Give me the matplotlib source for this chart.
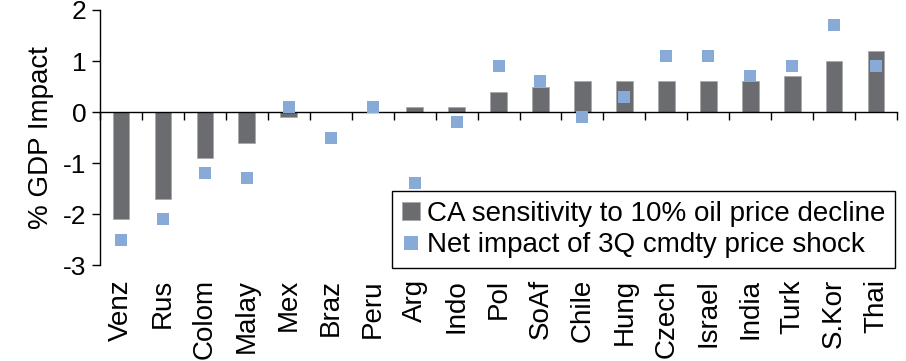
import matplotlib.pyplot as plt
import matplotlib.transforms as mtransforms
import numpy as np

plt.rcParams['font.family'] = ['Liberation Sans', 'DejaVu Sans']
plt.rcParams['axes.unicode_minus'] = False

countries = ['Venz', 'Rus', 'Colom', 'Malay', 'Mex', 'Braz', 'Peru', 'Arg', 'Indo', 'Pol',
             'SoAf', 'Chile', 'Hung', 'Czech', 'Israel', 'India', 'Turk', 'S.Kor', 'Thai']
ca_sensitivity = [-2.1, -1.7, -0.9, -0.6, -0.1, 0.0, 0.0, 0.1, 0.1, 0.4,
                  0.5, 0.6, 0.6, 0.6, 0.6, 0.6, 0.7, 1.0, 1.2]
net_impact = [-2.5, -2.1, -1.2, -1.3, 0.1, -0.5, 0.1, -1.4, -0.2, 0.9,
              0.6, -0.1, 0.3, 1.1, 1.1, 0.7, 0.9, 1.7, 0.9]

bar_color = '#6b6c70'
dot_color = '#87aad6'

fig = plt.figure(figsize=(9.06, 3.61), dpi=100)
ax = fig.add_axes([0.1104, 0.2659, 0.8797, 0.7064])

x = np.arange(len(countries))
bars = ax.bar(x, ca_sensitivity, width=0.4, color=bar_color, edgecolor='#a9a9ab',
              linewidth=0.6, zorder=2)
dots, = ax.plot(x, net_impact, 's', color=dot_color, markersize=9, markeredgewidth=0,
                zorder=3)

ax.set_xlim(-0.5, len(countries) - 0.5)
ax.set_ylim(-3, 2)
ax.set_yticks([-3, -2, -1, 0, 1, 2])
ax.tick_params(axis='y', labelsize=19, length=6, width=1, pad=4)
ax.set_ylabel('% GDP Impact', fontsize=20, labelpad=6)

# zero line with ticks between categories
ax.spines['top'].set_visible(False)
ax.spines['right'].set_visible(False)
ax.spines['bottom'].set_position(('data', 0))
ax.spines['left'].set_linewidth(1)
ax.spines['bottom'].set_linewidth(1)
ax.set_xticks(x)
ax.set_xticklabels([])
ax.set_xticks(np.arange(-0.5, len(countries)), minor=True)
ax.tick_params(axis='x', which='major', length=0)
ax.tick_params(axis='x', which='minor', length=6, width=1, direction='out')

# country names along the bottom
trans = mtransforms.blended_transform_factory(ax.transData, ax.transAxes)
for xi, name in zip(x, countries):
    ax.text(xi, -0.055, name, rotation=90, ha='center', va='top',
            fontsize=20, transform=trans)

leg = ax.legend([bars, dots],
                ['CA sensitivity to 10% oil price decline', 'Net impact of 3Q cmdty price shock'],
                loc='lower right', bbox_to_anchor=(0.9975, -0.012),
                fontsize=20, frameon=True, fancybox=False, borderaxespad=0,
                handlelength=0.65, handleheight=0.65, handletextpad=0.25,
                borderpad=0.35, labelspacing=0.2, markerscale=1.05)
leg.get_frame().set_edgecolor('black')
leg.get_frame().set_linewidth(1)
leg.get_frame().set_alpha(1)

fig.savefig('out.png', dpi=100)
